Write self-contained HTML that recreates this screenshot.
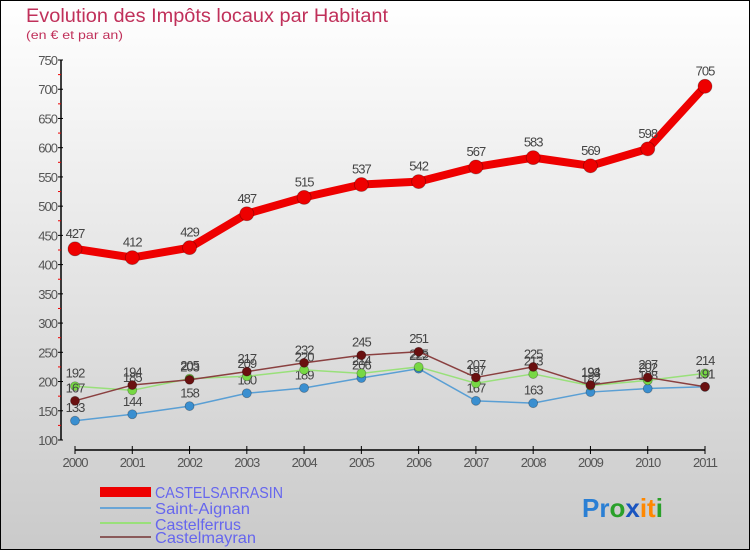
<!DOCTYPE html>
<html><head><meta charset="utf-8"><style>
body{margin:0;width:750px;height:550px;overflow:hidden;font-family:"Liberation Sans",sans-serif}
svg text{font-family:"Liberation Sans",sans-serif}
</style></head><body>
<svg id="chart" width="750" height="550" xmlns="http://www.w3.org/2000/svg">
<defs><linearGradient id="bg" x1="0" y1="0" x2="0" y2="1"><stop offset="0" stop-color="#ffffff"/><stop offset="1" stop-color="#cacaca"/></linearGradient></defs>
<rect x="0.5" y="0.5" width="749" height="549" fill="url(#bg)" stroke="#000"/>
<text x="26" y="22" font-size="19" fill="#c0305a" textLength="362" lengthAdjust="spacingAndGlyphs">Evolution des Impôts locaux par Habitant</text>
<text x="26" y="39" font-size="12" fill="#c0305a" textLength="97" lengthAdjust="spacingAndGlyphs">(en € et par an)</text>
<g id="axes"></g>
<g id="series"></g>
<g id="legend">
<rect x="100" y="487" width="51" height="10" fill="#ee0000"/>
<text x="155" y="498" font-size="16" fill="#6666ee" textLength="128" lengthAdjust="spacingAndGlyphs">CASTELSARRASIN</text>
<rect x="100" y="507" width="51" height="2" fill="#6aa5d6"/>
<text x="155" y="514" font-size="16" fill="#6666ee" textLength="95" lengthAdjust="spacingAndGlyphs">Saint-Aignan</text>
<rect x="100" y="522" width="51" height="2" fill="#99e07a"/>
<text x="155" y="530" font-size="16" fill="#6666ee" textLength="86" lengthAdjust="spacingAndGlyphs">Castelferrus</text>
<rect x="100" y="536" width="51" height="2" fill="#8a5a5a"/>
<text x="155" y="543" font-size="16" fill="#6666ee" textLength="101" lengthAdjust="spacingAndGlyphs">Castelmayran</text>
</g>
<text x="582" y="517" font-size="26" font-weight="bold"><tspan fill="#2a7fd4">Pr</tspan><tspan fill="#2aa02a">o</tspan><tspan fill="#1a55c0">x</tspan><tspan fill="#ff8800">it</tspan><tspan fill="#2aa02a">i</tspan></text>
</svg>
<script>
const years=["2000","2001","2002","2003","2004","2005","2006","2007","2008","2009","2010","2011"];
const yTicks=[100,150,200,250,300,350,400,450,500,550,600,650,700,750];
const castelsarrasin=[427,412,429,487,515,537,542,567,583,569,598,705];
const saintAignan=[133,144,158,180,189,206,222,167,163,182,188,191];
const castelferrus=[192,185,205,209,220,214,225,197,213,193,202,214];
const castelmayran=[167,194,203,217,232,245,251,207,225,194,207,191];
const NS="http://www.w3.org/2000/svg";
const x0=75,x1=705,yMin=100,yMax=750,py0=440,py1=60;
function xs(i){return x0+i*(x1-x0)/(years.length-1);}
function ys(v){return py0-(v-yMin)*(py0-py1)/(yMax-yMin);}
function mk(tag,attrs,parent){const e=document.createElementNS(NS,tag);for(const k in attrs)e.setAttribute(k,attrs[k]);parent.appendChild(e);return e;}
const axes=document.getElementById('axes');
let yl=mk('line',{x1:61,y1:py1,x2:61,y2:py0,stroke:'#000','stroke-width':1.5},axes);


yTicks.forEach((t,i)=>{
  const y=ys(t);
  mk('line',{x1:58,y1:y,x2:63,y2:y,stroke:'#000'},axes);
  if(i<yTicks.length-1){mk('line',{x1:58,y1:ys(t+25),x2:61,y2:ys(t+25),stroke:'#e00'},axes);}
  const tx=mk('text',{x:57,y:y+5,'font-size':13,fill:'#555','text-anchor':'end','letter-spacing':'-1'},axes);
  tx.textContent=t;
  
  
});
let xl=mk('line',{x1:x0,y1:450,x2:x1,y2:450,stroke:'#000','stroke-width':1.5},axes);


years.forEach((yr,i)=>{
  const x=xs(i);
  mk('line',{x1:x,y1:446,x2:x,y2:454,stroke:'#000'},axes);
  const tx=mk('text',{x:x,y:467,'font-size':13,fill:'#555','text-anchor':'middle','letter-spacing':'-1'},axes);
  tx.textContent=yr;
  
  
});
const sg=document.getElementById('series');
function drawSeries(vals,name,color,dot,w,r){
  const g=mk('g',{},sg);
  
  
  const pts=vals.map((v,i)=>xs(i)+','+ys(v)).join(' ');
  const pl=mk('polyline',{points:pts,fill:'none',stroke:color,'stroke-width':w,'stroke-linejoin':'round'},g);
  
  
  vals.forEach((v,i)=>{
    const c=mk('circle',{cx:xs(i),cy:ys(v),r:r,fill:dot,stroke:'rgba(0,0,0,0.3)','stroke-width':0.8},g);
    
    
    const t=mk('text',{x:xs(i),y:ys(v)-(r+4),'font-size':13,fill:'#444','text-anchor':'middle','letter-spacing':'-1'},g);
    t.textContent=v;
    
    
  });
}
drawSeries(saintAignan,'saint-aignan','#5a9fd4','#3a8fd0',1.5,4.5);
drawSeries(castelferrus,'castelferrus','#99e07a','#77d844',1.5,4.5);
drawSeries(castelmayran,'castelmayran','#8a4040','#6a1010',1.5,4.5);
drawSeries(castelsarrasin,'castelsarrasin','#ee0000','#ee0000',8,7);
</script>
</body></html>
